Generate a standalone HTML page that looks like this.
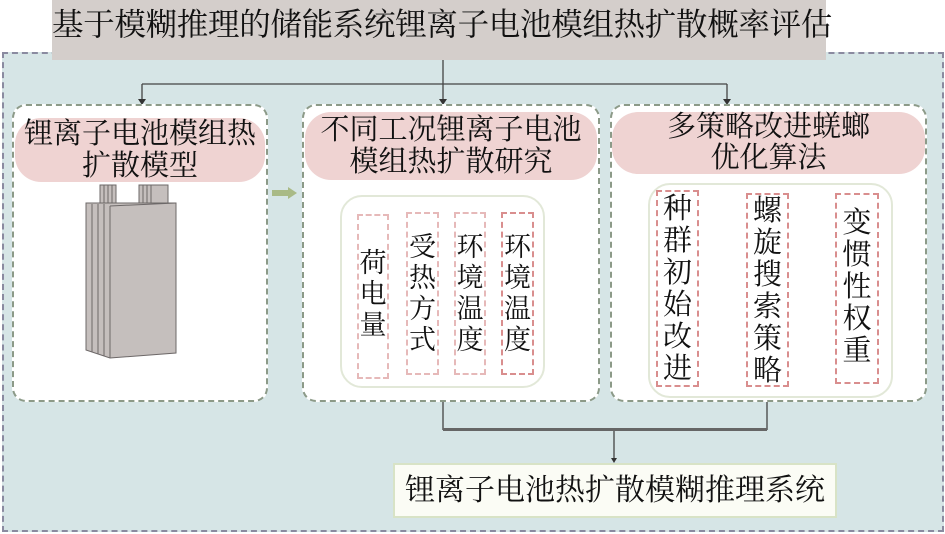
<!DOCTYPE html>
<html><head><meta charset="utf-8"><style>
body{margin:0;width:945px;height:534px;overflow:hidden;background:#fff;font-family:"Liberation Serif","Noto Serif CJK SC","Noto Sans CJK SC",serif;}
.a{position:absolute;box-sizing:border-box;}
.panel{background:#fff;border:2px dashed #8c9a88;border-radius:14px;}
.hdr{background:#efd3d2;border-radius:26px;color:#111;font-size:29px;line-height:32px;text-align:center;white-space:nowrap;}
.col{border:2px dashed #e6b9b9;font-size:27px;line-height:31px;text-align:center;color:#111;white-space:nowrap;}
.col.dk{border-color:#d98e8e;}
.big{font-size:29px;line-height:32px;}
</style></head><body>
<div class="a" style="left:2px;top:52px;width:942px;height:480px;background:#d6e5e6;border:2px dashed #8a8aa0;"></div>
<div class="a" style="left:52px;top:0;width:774px;height:60px;background:#d4cecb;font-size:31.5px;line-height:50px;text-align:center;color:#111;white-space:nowrap;letter-spacing:-0.3px;">基于模糊推理的储能系统锂离子电池模组热扩散概率评估</div>
<svg class="a" style="left:0;top:0" width="945" height="534">
<g stroke="#444" stroke-width="1.3" fill="none">
<path d="M443 60V84M142 84H727M142 84V100M443 84V100M727 84V100"/>
<path d="M443 402V430M767 402V430M614 430V459"/>
</g>
<path d="M443 429.5H767" stroke="#666" stroke-width="3"/>
<g fill="#333"><path d="M138 99h8l-4 6z"/><path d="M439 99h8l-4 6z"/><path d="M723 99h8l-4 6z"/><path d="M611 458h6l-3 5z"/></g>
</svg>
<div class="a panel" style="left:12px;top:104px;width:256px;height:298px;"></div>
<div class="a panel" style="left:302px;top:104px;width:298px;height:298px;"></div>
<div class="a panel" style="left:610px;top:104px;width:317px;height:298px;"></div>
<div class="a hdr" style="left:15px;top:118px;width:250px;height:64px;">锂离子电池模组热<br>扩散模型</div>
<div class="a hdr" style="left:305px;top:112px;width:292px;height:68px;padding-top:2px;">不同工况锂离子电池<br>模组热扩散研究</div>
<div class="a hdr" style="left:612px;top:112px;width:313px;height:62px;line-height:31px;">多策略改进蜣螂<br>优化算法</div>
<svg class="a" style="left:80px;top:180px" width="110" height="195">
<g stroke="#6d6868" stroke-width="1" fill="#c5bfbd">
<rect x="20" y="5" width="16" height="19"/><line x1="24" y1="5" x2="24" y2="24"/><line x1="28" y1="5" x2="28" y2="24"/><line x1="32" y1="5" x2="32" y2="24"/>
<rect x="59" y="5" width="29" height="19"/><line x1="63" y1="5" x2="63" y2="24"/><line x1="67" y1="5" x2="67" y2="24"/><line x1="71" y1="5" x2="71" y2="24"/>
<path d="M6 23H96V173L30 178L6 170Z"/>
<path d="M30 26V178M12 24V172M18 24V174M24 24V176"/>
<path d="M30 26L96 23"/>
</g>
</svg>
<svg class="a" style="left:270px;top:186px" width="30" height="14"><path d="M2 4H18V1L27 7L18 13V10H2Z" fill="#a9ba86"/></svg>
<div class="a" style="left:340px;top:195px;width:205px;height:193px;background:#fff;border:2px solid #e2e8d8;border-radius:22px;"></div>
<div class="a col" style="left:357px;top:214px;width:32px;height:165px;padding-top:32px;">荷<br>电<br>量</div>
<div class="a col" style="left:406px;top:212px;width:33px;height:163px;padding-top:18px;">受<br>热<br>方<br>式</div>
<div class="a col" style="left:454px;top:212px;width:32px;height:163px;padding-top:18px;">环<br>境<br>温<br>度</div>
<div class="a col dk" style="left:501px;top:212px;width:33px;height:163px;padding-top:18px;">环<br>境<br>温<br>度</div>
<div class="a" style="left:648px;top:183px;width:245px;height:215px;background:#fff;border:2px solid #e2e8d8;border-radius:22px;"></div>
<div class="a col dk big" style="left:656px;top:190px;width:43px;height:197px;padding-top:1px;">种<br>群<br>初<br>始<br>改<br>进</div>
<div class="a col dk big" style="left:746px;top:193px;width:43px;height:194px;padding-top:0px;">螺<br>旋<br>搜<br>索<br>策<br>略</div>
<div class="a col dk big" style="left:835px;top:193px;width:44px;height:191px;padding-top:12px;">变<br>惯<br>性<br>权<br>重</div>
<div class="a" style="left:393px;top:463px;width:444px;height:55px;background:#fbfcf5;border:2px solid #d8e3c6;font-size:30px;line-height:51px;text-align:center;color:#111;white-space:nowrap;">锂离子电池热扩散模糊推理系统</div>
</body></html>
